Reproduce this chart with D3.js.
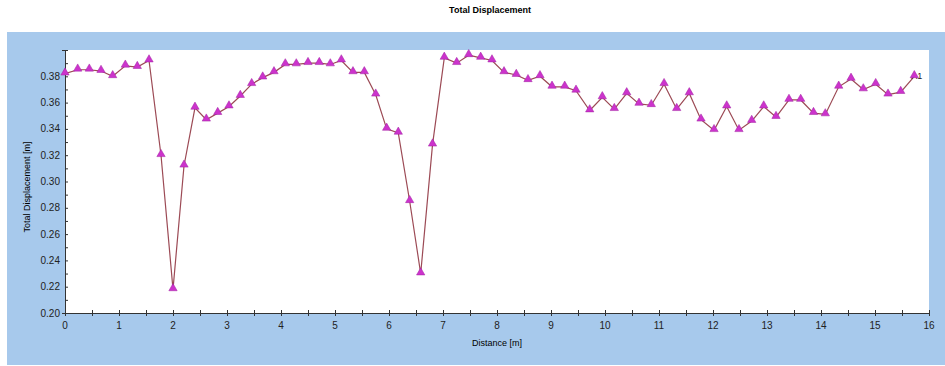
<!DOCTYPE html>
<html>
<head>
<meta charset="utf-8">
<script src="https://cdn.jsdelivr.net/npm/d3@7"></script>
<style>
  body { margin: 0; background: #fff; }
  svg { display: block; font-family: "Liberation Sans", Arial, sans-serif; }
</style>
</head>
<body>
<div id="chart"></div>
<script>
// distance [m] of each reading
const distances = [0, 0.235, 0.45, 0.667, 0.883, 1.117, 1.339, 1.556, 1.778, 2.0,
  2.204, 2.407, 2.617, 2.828, 3.037, 3.246, 3.457, 3.661, 3.87, 4.08,
  4.283, 4.5, 4.709, 4.913, 5.117, 5.333, 5.543, 5.754, 5.957, 6.172,
  6.383, 6.587, 6.806, 7.024, 7.254, 7.476, 7.698, 7.907, 8.13, 8.357,
  8.574, 8.796, 9.019, 9.254, 9.463, 9.717, 9.95, 10.172, 10.402, 10.63,
  10.857, 11.094, 11.328, 11.561, 11.778, 12.019, 12.254, 12.481, 12.717, 12.939,
  13.167, 13.407, 13.624, 13.861, 14.08, 14.328, 14.556, 14.783, 15.013, 15.241,
  15.476, 15.728];

// total displacement [m]
const displacements = [0.382, 0.385, 0.385, 0.384, 0.380, 0.388, 0.387, 0.392, 0.320, 0.218,
  0.312, 0.356, 0.347, 0.352, 0.357, 0.365, 0.374, 0.379, 0.383, 0.389,
  0.389, 0.390, 0.390, 0.389, 0.392, 0.383, 0.383, 0.366, 0.340, 0.337,
  0.285, 0.230, 0.328, 0.394, 0.390, 0.396, 0.394, 0.392, 0.383, 0.381,
  0.377, 0.380, 0.372, 0.372, 0.369, 0.354, 0.364, 0.355, 0.367, 0.359,
  0.358, 0.374, 0.355, 0.367, 0.347, 0.339, 0.357, 0.339, 0.346, 0.357,
  0.349, 0.362, 0.362, 0.352, 0.351, 0.372, 0.378, 0.370, 0.374, 0.366,
  0.368, 0.380];

const xTicks = d3.range(0, 17, 1);
const yTicks = [0.20, 0.22, 0.24, 0.26, 0.28, 0.30, 0.32, 0.34, 0.36, 0.38];
const seriesName = "A1";

const data = distances.map((d, i) => ({ x: d, y: displacements[i] }));

const W = 945, H = 366;
const margin = { top: 50, right: 16, bottom: 53, left: 65 };
const width = W - margin.left - margin.right;
const height = H - margin.top - margin.bottom;

const svg = d3.select("#chart").append("svg")
  .attr("width", W)
  .attr("height", H);

// blue panel
svg.append("rect")
  .attr("x", 7).attr("y", 32)
  .attr("width", W - 7).attr("height", 333)
  .attr("fill", "#a7c9ec");

svg.append("text")
  .attr("x", 490).attr("y", 13)
  .attr("text-anchor", "middle")
  .style("font-size", "9px")
  .style("font-weight", "bold")
  .text("Total Displacement");

const g = svg.append("g")
  .attr("transform", `translate(${margin.left},${margin.top})`);

g.append("rect")
  .attr("width", width).attr("height", height)
  .attr("fill", "#fff");

const x = d3.scaleLinear().domain([0, 16]).range([0, width]);
const y = d3.scaleLinear().domain([0.20, 0.40]).range([height, 0]);

// x axis: minor ticks every 0.5, labels on integers
const xAxis = g.append("g").attr("transform", `translate(0,${height})`);
xAxis.call(d3.axisBottom(x).tickValues(d3.range(0, 16.01, 0.5)).tickSize(3).tickSizeInner(3).tickFormat(""));
xAxis.selectAll(".tick line").attr("y1", -3).attr("stroke", "#333");
xAxis.select(".domain").attr("stroke", "#333");
xAxis.selectAll(".lbl")
  .data(xTicks).enter().append("text")
  .attr("x", d => x(d)).attr("y", 16)
  .attr("text-anchor", "middle")
  .attr("fill", "#222")
  .style("font-size", "10px")
  .text(d => d);

// y axis: minor ticks every 0.01
const yAxis = g.append("g");
yAxis.call(d3.axisLeft(y).tickValues(d3.range(0, 21).map(i => 0.20 + i * 0.01)).tickSize(3).tickFormat(""));
yAxis.selectAll(".tick line").attr("x2", 3).attr("stroke", "#333");
yAxis.select(".domain").attr("stroke", "#333");
yAxis.selectAll(".lbl")
  .data(yTicks).enter().append("text")
  .attr("x", -5).attr("y", d => y(d))
  .attr("dy", "0.35em")
  .attr("text-anchor", "end")
  .attr("fill", "#222")
  .style("font-size", "10px")
  .text(d => d.toFixed(2));

g.append("text")
  .attr("x", width / 2).attr("y", height + 33)
  .attr("text-anchor", "middle")
  .style("font-size", "9px")
  .text("Distance [m]");

g.append("text")
  .attr("transform", "rotate(-90)")
  .attr("x", -(187 - margin.top)).attr("y", -35)
  .attr("text-anchor", "middle")
  .style("font-size", "9px")
  .text("Total Displacement [m]");

const line = d3.line().x(d => x(d.x)).y(d => y(d.y));
g.append("path")
  .datum(data)
  .attr("fill", "none")
  .attr("stroke", "#9c4a55")
  .attr("stroke-width", 1.2)
  .attr("d", line);

const tri = d3.symbol().type(d3.symbolTriangle).size(30);
g.selectAll(".pt")
  .data(data).enter().append("path")
  .attr("class", "pt")
  .attr("transform", d => `translate(${x(d.x)},${y(d.y) - 1})`)
  .attr("d", tri)
  .attr("fill", "#cc33cc")
  .attr("stroke", "#a020a0")
  .attr("stroke-width", 0.5);

const last = data[data.length - 1];
g.append("text")
  .attr("x", x(last.x) - 3).attr("y", y(last.y) + 3)
  .style("font-size", "9px")
  .attr("fill", "#222")
  .text(seriesName);
g.select(".pt:last-of-type").raise();
</script>
</body>
</html>
